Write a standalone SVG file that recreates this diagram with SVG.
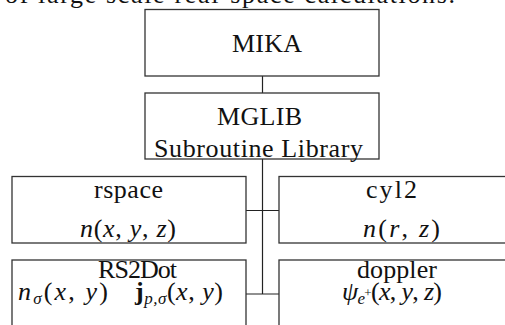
<svg xmlns="http://www.w3.org/2000/svg" width="505" height="325" viewBox="0 0 505 325">
<style>
.box{fill:#fff;stroke:#333;stroke-width:1.3}
.con{stroke:#222;stroke-width:1.2;fill:none}
text{font-family:"Liberation Serif","Times New Roman",serif;font-size:26px;fill:#111}
.m{text-anchor:middle}
.i{font-style:italic}
.b{font-weight:bold}
.s{font-size:17px}
</style>
<rect width="505" height="325" fill="#fff"/>
<text x="5" y="3" textLength="450" lengthAdjust="spacing">of large scale real-space calculations.</text>
<g id="connectors">
<line class="con" x1="262.5" y1="76" x2="262.5" y2="93"/>
<line class="con" x1="262.5" y1="159" x2="262.5" y2="294"/>
<line class="con" x1="246" y1="210.5" x2="279" y2="210.5"/>
<line class="con" x1="246" y1="294" x2="279" y2="294"/>
</g>
<g id="mika">
<rect class="box" x="145" y="9.5" width="234" height="66.5"/>
<text class="m" x="267" y="52" textLength="70" lengthAdjust="spacing">MIKA</text>
</g>
<g id="mglib">
<rect class="box" x="145" y="93" width="234" height="66"/>
<text class="m" x="259.5" y="125" textLength="85" lengthAdjust="spacing">MGLIB</text>
<text class="m" x="258.5" y="156.5" textLength="209" lengthAdjust="spacing">Subroutine Library</text>
</g>
<g id="rspace">
<rect class="box" x="12" y="176.5" width="234" height="66.5"/>
<text class="m" x="128.5" y="197.5" textLength="69" lengthAdjust="spacing">rspace</text>
<text class="m" x="128" y="237" textLength="96" lengthAdjust="spacing"><tspan class="i">n</tspan>(<tspan class="i">x</tspan>, <tspan class="i">y</tspan>, <tspan class="i">z</tspan>)</text>
</g>
<g id="cyl2">
<rect class="box" x="279" y="176.5" width="240" height="66.5"/>
<text class="m" x="391.5" y="197.5" textLength="51" lengthAdjust="spacing">cyl2</text>
<text class="m" x="401.5" y="237" textLength="77" lengthAdjust="spacing"><tspan class="i">n</tspan>(<tspan class="i">r</tspan>, <tspan class="i">z</tspan>)</text>
</g>
<g id="rs2dot">
<rect class="box" x="12" y="260" width="234" height="80"/>
<text class="m" x="137.5" y="278" textLength="79" lengthAdjust="spacing">RS2Dot</text>
<text x="18" y="300" textLength="90" lengthAdjust="spacing"><tspan class="i">n</tspan><tspan class="i s" dy="4">σ</tspan><tspan dy="-4">(</tspan><tspan class="i">x</tspan>, <tspan class="i">y</tspan>)</text>
<text x="135" y="300" textLength="88" lengthAdjust="spacing"><tspan class="b">j</tspan><tspan class="i s" dy="4">p,σ</tspan><tspan dy="-4">(</tspan><tspan class="i">x</tspan>, <tspan class="i">y</tspan>)</text>
</g>
<g id="doppler">
<rect class="box" x="279" y="260" width="240" height="80"/>
<text class="m" x="397" y="278" textLength="80" lengthAdjust="spacing">doppler</text>
<text x="342" y="300" textLength="100" lengthAdjust="spacing"><tspan class="i">ψ</tspan><tspan class="i s" dy="4">e</tspan><tspan dy="-7" font-size="13">+</tspan><tspan dy="3">(</tspan><tspan class="i">x</tspan>, <tspan class="i">y</tspan>, <tspan class="i">z</tspan>)</text>
</g>
</svg>
